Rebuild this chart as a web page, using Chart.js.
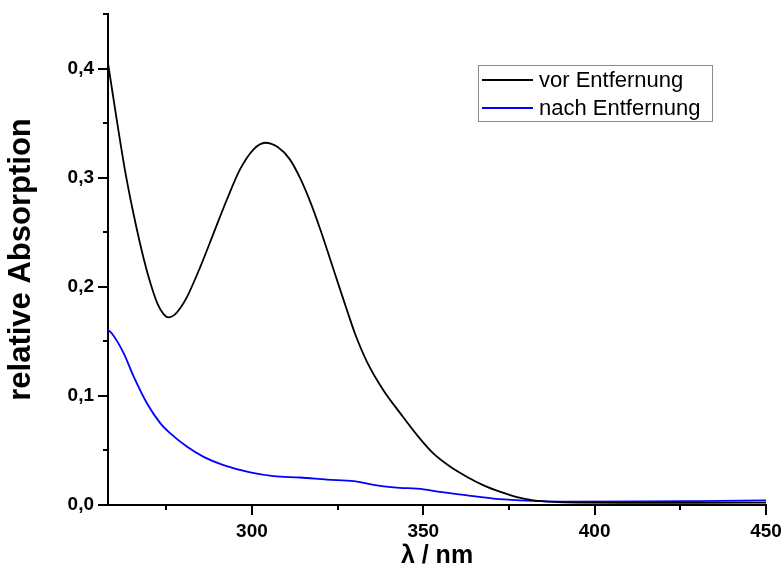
<!DOCTYPE html>
<html><head><meta charset="utf-8">
<script src="https://cdn.jsdelivr.net/npm/chart.js@4.4.1/dist/chart.umd.min.js"></script>
<style>html,body{margin:0;padding:0;background:#fff}</style>
</head><body>
<canvas id="c" width="781" height="577"></canvas>
<script>
// Wavelengths (nm) and absorbance
const wlBefore = [258, 260.6, 263, 265.5, 268.4, 270.5, 272.5, 274.2, 275.7, 277.3, 279.2, 281.1, 284.9, 288.8, 292.7, 296.6, 300.5, 303.9, 307.5, 311, 314, 317, 320, 324, 328, 330.2, 333.6, 338.4, 343.3, 348.2, 353, 357.9, 362.8, 367.6, 372.5, 377.3, 382.2, 388, 395, 410, 430, 450];
const absBefore = [0.405, 0.352, 0.306, 0.266, 0.226, 0.202, 0.184, 0.175, 0.172, 0.174, 0.181, 0.191, 0.218, 0.249, 0.280, 0.308, 0.326, 0.332, 0.328, 0.317, 0.300, 0.278, 0.252, 0.214, 0.176, 0.156, 0.131, 0.105, 0.084, 0.064, 0.047, 0.035, 0.0257, 0.018, 0.012, 0.0073, 0.0043, 0.0028, 0.0022, 0.0020, 0.0020, 0.0022];

const wlAfter = [258, 259.2, 262.6, 265.5, 269.4, 273.3, 276.2, 281.1, 285.9, 291.7, 299.5, 306.3, 314.1, 321.9, 329.7, 335.5, 341.4, 350.1, 355, 362.8, 370.5, 378.3, 386.1, 393.9, 413.3, 430, 450];
const absAfter = [0.1605, 0.157, 0.139, 0.1176, 0.093, 0.0748, 0.0656, 0.0533, 0.0441, 0.0365, 0.0298, 0.0264, 0.0252, 0.0233, 0.0218, 0.0185, 0.0162, 0.0144, 0.012, 0.0089, 0.0059, 0.0043, 0.0034, 0.0031, 0.0032, 0.0036, 0.0042];

const seriesLabels = ['vor Entfernung', 'nach Entfernung'];
const seriesColors = ['#000000', '#0000ff'];

const xMajorTicks = [300, 350, 400, 450];
const xMinorTicks = [275, 325, 375, 425];
const yMajorTicks = [0, 0.1, 0.2, 0.3, 0.4];
const yMinorTicks = [0.05, 0.15, 0.25, 0.35, 0.45];

const xTitle = 'λ / nm';
const yTitle = 'relative Absorption';

const FONT = "'Liberation Sans', Arial, Helvetica, sans-serif";

const tickPlugin = {
  id: 'tickMarks',
  afterDraw(chart) {
    const ctx = chart.ctx;
    const xs = chart.scales.x, ys = chart.scales.y;
    const ay = ys.getPixelForValue(0);
    const ax = xs.getPixelForValue(xs.min);
    ctx.save();
    ctx.strokeStyle = '#000';
    ctx.lineWidth = 2;
    const mark = (x1, y1, x2, y2) => { ctx.beginPath(); ctx.moveTo(x1, y1); ctx.lineTo(x2, y2); ctx.stroke(); };
    xMajorTicks.forEach(v => { const p = Math.round(xs.getPixelForValue(v)); mark(p, ay, p, ay + 10); });
    xMinorTicks.forEach(v => { const p = Math.round(xs.getPixelForValue(v)); mark(p, ay, p, ay + 5); });
    yMajorTicks.forEach(v => { const p = Math.round(ys.getPixelForValue(v)); mark(ax, p, ax - 10, p); });
    yMinorTicks.forEach(v => { const p = Math.round(ys.getPixelForValue(v)); mark(ax, p, ax - 5, p); });

    // legend
    const ca = chart.chartArea;
    const lx = ca.right - 288, ly = ca.top + 51;
    const lw = 234, lh = 56;
    ctx.lineWidth = 1;
    ctx.strokeStyle = '#8a8a8a';
    ctx.strokeRect(lx + 0.5, ly + 0.5, lw, lh);
    ctx.font = '22px ' + FONT;
    ctx.textBaseline = 'middle';
    ctx.textAlign = 'left';
    seriesLabels.forEach((lab, i) => {
      const yy = ly + 15 + i * 28;
      ctx.strokeStyle = seriesColors[i];
      ctx.lineWidth = 2;
      mark(lx + 4, yy, lx + 55, yy);
      ctx.fillStyle = '#000';
      ctx.fillText(lab, lx + 61, yy + 1);
    });
    ctx.restore();
  }
};

const ctx = document.getElementById('c').getContext('2d');
new Chart(ctx, {
  type: 'scatter',
  data: {
    datasets: [
      { label: seriesLabels[0], data: wlBefore.map((x, i) => ({ x, y: absBefore[i] })), showLine: true,
        borderColor: seriesColors[0], borderWidth: 1.8, pointRadius: 0, cubicInterpolationMode: 'monotone', fill: false },
      { label: seriesLabels[1], data: wlAfter.map((x, i) => ({ x, y: absAfter[i] })), showLine: true,
        borderColor: seriesColors[1], borderWidth: 1.8, pointRadius: 0, cubicInterpolationMode: 'monotone', fill: false }
    ]
  },
  options: {
    responsive: false,
    animation: false,
    layout: { padding: { top: 14, right: 15, left: 0, bottom: 0 } },
    plugins: { legend: { display: false }, tooltip: { enabled: false } },
    scales: {
      x: {
        type: 'linear', min: 258, max: 450,
        afterFit(s) { s.height = 72; s.paddingLeft = 0; s.paddingRight = 0; },
        afterBuildTicks(s) { s.ticks = xMajorTicks.map(v => ({ value: v })); },
        grid: { display: false, drawTicks: false },
        border: { display: true, color: '#000', width: 2 },
        ticks: { color: '#000', padding: 15, maxRotation: 0, autoSkip: false,
          font: { family: FONT, size: 19, weight: 'bold' }, callback: v => String(v) },
        title: { display: true, text: xTitle, color: '#000', font: { family: FONT, size: 25, weight: 'bold' }, padding: { top: 0, bottom: 6 } }
      },
      y: {
        type: 'linear', min: 0, max: 0.45,
        afterFit(s) { s.width = 108; s.paddingTop = 0; s.paddingBottom = 0; },
        afterBuildTicks(s) { s.ticks = yMajorTicks.map(v => ({ value: v })); },
        grid: { display: false, drawTicks: false },
        border: { display: true, color: '#000', width: 2 },
        ticks: { color: '#000', padding: 14, autoSkip: false,
          font: { family: FONT, size: 19, weight: 'bold' }, callback: v => v.toFixed(1).replace('.', ',') },
        title: { display: true, text: yTitle, color: '#000', font: { family: FONT, size: 31, weight: 'bold' }, padding: { top: 3, bottom: 0 } }
      }
    }
  },
  plugins: [tickPlugin]
});
</script>
</body></html>
